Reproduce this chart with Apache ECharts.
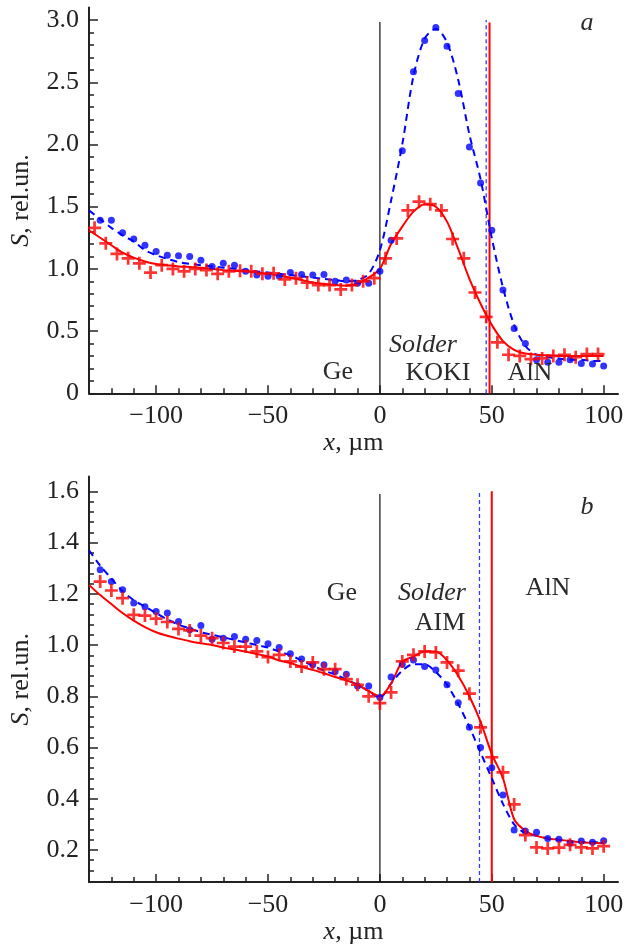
<!DOCTYPE html>
<html><head><meta charset="utf-8">
<script src="https://cdn.jsdelivr.net/npm/echarts@6/dist/echarts.min.js"></script>
<style>html,body{margin:0;padding:0;background:#fff}#c{width:626px;height:948px}</style>
</head><body><div id="c"></div>
<script>
// ---------- data ----------
const xFit = [-130,-125,-120,-115,-110,-105,-100,-95,-90,-85,-80,-75,-70,-65,-60,-55,-50,-45,-40,-35,-30,-25,-20,-15,-10,-5,0,5,10,15,20,25,30,35,40,45,50,55,60,65,70,75,80,85,90,95,100];
const xDots = [-125,-120,-115,-110,-105,-100,-95,-90,-85,-80,-75,-70,-65,-60,-55,-50,-45,-40,-35,-30,-25,-20,-15,-10,-5,0,5,10,15,20,25,30,35,40,45,50,55,60,65,70,75,80,85,90,95,100];
const xCrossA = [-127.5,-122.5,-117.5,-112.5,-107.5,-102.5,-97.5,-92.5,-87.5,-82.5,-77.5,-72.5,-67.5,-62.5,-57.5,-52.5,-47.5,-42.5,-37.5,-32.5,-27.5,-22.5,-17.5,-12.5,-7.5,-2.5,2.5,7.5,12.5,17.5,22.5,27.5,32.5,37.5,42.5,47.5,52.5,57.5,62.5,67.5,72.5,77.5,82.5,87.5,92.5,97.5];

// panel a
const blueFitA = [1.47,1.40,1.33,1.27,1.22,1.15,1.11,1.08,1.055,1.04,1.03,1.02,1.01,1.00,0.99,0.98,0.97,0.96,0.95,0.94,0.93,0.92,0.91,0.90,0.91,0.96,1.15,1.55,2.00,2.55,2.85,2.93,2.82,2.52,2.08,1.72,1.25,0.85,0.55,0.38,0.31,0.29,0.28,0.27,0.27,0.26,0.26];
const redFitA = [1.31,1.25,1.19,1.13,1.09,1.06,1.04,1.03,1.02,1.015,1.01,1.00,0.99,0.985,0.98,0.97,0.96,0.945,0.93,0.91,0.89,0.88,0.87,0.865,0.88,0.93,1.00,1.20,1.34,1.46,1.52,1.50,1.38,1.16,0.92,0.72,0.55,0.42,0.35,0.32,0.31,0.305,0.30,0.30,0.30,0.30,0.30];
const blueDotsA = [1.39,1.39,1.29,1.24,1.19,1.14,1.11,1.105,1.10,1.07,1.02,1.045,1.03,0.98,0.95,0.94,0.94,0.97,0.955,0.95,0.955,0.90,0.91,0.885,0.885,0.98,1.23,1.95,2.585,2.835,2.94,2.79,2.41,1.98,1.69,1.31,0.83,0.52,0.40,0.27,0.25,0.25,0.27,0.24,0.235,0.22];
const redCrossA = [1.33,1.205,1.12,1.085,1.045,0.97,1.03,1.0,0.98,1.0,0.99,0.96,0.98,0.985,0.98,0.96,0.965,0.915,0.925,0.89,0.87,0.87,0.835,0.87,0.90,0.925,1.085,1.245,1.47,1.54,1.52,1.47,1.24,1.085,0.81,0.615,0.41,0.31,0.30,0.275,0.28,0.30,0.31,0.29,0.315,0.315];

// panel b
const blueFitB = [1.37,1.31,1.26,1.21,1.175,1.15,1.125,1.10,1.08,1.065,1.05,1.04,1.03,1.02,1.01,1.0,0.99,0.975,0.96,0.94,0.92,0.90,0.885,0.865,0.845,0.82,0.795,0.85,0.90,0.925,0.925,0.895,0.845,0.77,0.68,0.58,0.48,0.38,0.30,0.265,0.255,0.245,0.24,0.235,0.23,0.23,0.23];
const redFitB = [1.235,1.195,1.16,1.125,1.095,1.07,1.05,1.036,1.025,1.015,1.007,1.0,0.99,0.983,0.975,0.965,0.955,0.94,0.93,0.915,0.903,0.89,0.875,0.862,0.845,0.82,0.80,0.85,0.935,0.955,0.975,0.975,0.94,0.88,0.80,0.70,0.575,0.48,0.32,0.275,0.255,0.245,0.24,0.235,0.23,0.228,0.226];
const blueDotsB = [1.294,1.248,1.216,1.164,1.15,1.131,1.125,1.092,1.06,1.076,1.023,1.027,1.033,1.023,1.018,1.005,0.99,0.966,0.946,0.923,0.923,0.897,0.886,0.84,0.84,0.795,0.875,0.925,0.942,0.916,0.903,0.845,0.775,0.679,0.60,0.521,0.415,0.278,0.274,0.269,0.245,0.242,0.226,0.235,0.23,0.236];
const redCrossB = [1.248,1.213,1.183,1.118,1.115,1.103,1.09,1.063,1.057,1.037,1.027,1.008,0.994,0.994,0.975,0.953,0.962,0.936,0.916,0.932,0.906,0.906,0.867,0.845,0.80,0.773,0.815,0.936,0.962,0.975,0.971,0.932,0.90,0.81,0.679,0.562,0.503,0.378,0.258,0.21,0.206,0.209,0.22,0.21,0.206,0.215];

// boundaries [x, yTop]
const boundA = {ge: [0, 2.985], blue: [47.5, 3.0], red: [49, 2.98]};
const boundB = {ge: [0, 1.59], blue: [44.5, 1.6], red: [50, 1.6]};

// ticks
const xMajor = [-100,-50,0,50,100];
const xMinor = [-120,-110,-90,-80,-70,-60,-40,-30,-20,-10,10,20,30,40,60,70,80,90];
const yMajorA = [0,0.5,1.0,1.5,2.0,2.5,3.0];
const yMajorB = [0.2,0.4,0.6,0.8,1.0,1.2,1.4,1.6];
const yMinorA = []; for (let i = 1; i <= 30; i++) if (i % 5) yMinorA.push(+(i*0.1).toFixed(2));
const yMinorB = []; for (let i = 3; i <= 39; i++) if (i % 5) yMinorB.push(+(i*0.04).toFixed(2));

// ---------- chart ----------
const FONT = 'Liberation Serif';
const INK = '#222';
const BLUE = '#0000ff';
const RED = '#ff0000';
const CROSS = 'path://M4.75,0H7.25V4.75H12V7.25H7.25V12H4.75V7.25H0V4.75H4.75Z';
const zip = (xs, ys) => xs.map((x, i) => [x, ys[i]]);
const fmtX = v => v < 0 ? '\u2212' + Math.abs(v) : String(v);

const X = {min: -130, max: 106.4};
const grids = [
  {left: 83, right: 3.3, top: 7.6, height: 385.7},
  {left: 83, right: 3.3, top: 476.5, height: 405.5}
];
const yr = [{min: 0, max: 3.1}, {min: 0.075, max: 1.658}];

function xAxes(gi) {
  return [
    {gridIndex: gi, type: 'value', min: X.min, max: X.max,
     axisLine: {show: true, onZero: false, lineStyle: {color: INK, width: 2}},
     axisTick: {show: true, inside: true, length: 8, lineStyle: {color: INK, width: 1.5}, customValues: xMajor},
     axisLabel: {show: true, margin: 10, fontFamily: FONT, fontSize: 26, color: INK, customValues: xMajor, formatter: fmtX},
     splitLine: {show: false},
     name: '{i|x}, \u00b5m', nameLocation: 'middle', nameGap: 34,
     nameTextStyle: {fontFamily: FONT, fontSize: 26, color: INK,
       rich: {i: {fontFamily: FONT, fontSize: 26, fontStyle: 'italic', color: INK}}}},
    {gridIndex: gi, type: 'value', min: X.min, max: X.max, position: 'bottom',
     axisLine: {show: false, onZero: false},
     axisTick: {show: true, inside: true, length: 5, lineStyle: {color: INK, width: 1.5}, customValues: xMinor},
     axisLabel: {show: false}, splitLine: {show: false}}
  ];
}
function yAxes(gi, major, minor, fmt) {
  return [
    {gridIndex: gi, type: 'value', min: yr[gi].min, max: yr[gi].max,
     axisLine: {show: true, onZero: false, lineStyle: {color: INK, width: 2}},
     axisTick: {show: true, inside: true, length: 9, lineStyle: {color: INK, width: 1.5}, customValues: major},
     axisLabel: {show: true, margin: 10, fontFamily: FONT, fontSize: 26, color: INK, customValues: major, formatter: fmt},
     splitLine: {show: false},
     name: '{i|S}, rel.un.', nameLocation: 'middle', nameGap: 55, nameRotate: 90,
     nameTextStyle: {fontFamily: FONT, fontSize: 26, color: INK,
       rich: {i: {fontFamily: FONT, fontSize: 26, fontStyle: 'italic', color: INK}}}},
    {gridIndex: gi, type: 'value', min: yr[gi].min, max: yr[gi].max, position: 'left',
     axisLine: {show: false, onZero: false},
     axisTick: {show: true, inside: true, length: 5, lineStyle: {color: INK, width: 1.5}, customValues: minor},
     axisLabel: {show: false}, splitLine: {show: false}}
  ];
}

function panelSeries(gi, bFit, rFit, bDots, rCross, xCross, bound, yBottom) {
  const xi = gi * 2, yi = gi * 2;
  const vline = (b, color, width, type, z) => ({
    type: 'line', xAxisIndex: xi, yAxisIndex: yi, data: [[b[0], yBottom], [b[0], b[1]]],
    symbol: 'none', lineStyle: {color, width, type}, z, silent: true, animation: false
  });
  return [
    vline(bound.ge, '#111', 1.2, 'solid', 2),
    vline(bound.blue, '#3a3aff', 1.3, [4, 3], 2),
    vline(bound.red, RED, 2, 'solid', 2),
    {type: 'line', xAxisIndex: xi, yAxisIndex: yi, data: zip(xFit, bFit), smooth: 0.3, symbol: 'none',
     lineStyle: {color: BLUE, width: 2, type: [7, 5]}, z: 3, animation: false},
    {type: 'line', xAxisIndex: xi, yAxisIndex: yi, data: zip(xFit, rFit), smooth: 0.3, symbol: 'none',
     lineStyle: {color: RED, width: 2}, z: 3, animation: false},
    {type: 'scatter', xAxisIndex: xi, yAxisIndex: yi, data: zip(xDots, bDots), symbol: 'circle', symbolSize: 7,
     itemStyle: {color: BLUE}, z: 4, animation: false},
    {type: 'scatter', xAxisIndex: xi, yAxisIndex: yi, data: zip(xCross, rCross), symbol: CROSS, symbolSize: 13,
     itemStyle: {color: RED}, z: 5, animation: false}
  ];
}

function txt(s, x, y, italic) {
  return {type: 'text', x, y, z: 10, style: {text: s, font: (italic ? 'italic ' : '') + '26px "' + FONT + '"',
    fill: '#2a2a2a', align: 'center', verticalAlign: 'middle', textAlign: 'center', textVerticalAlign: 'middle'}};
}

const option = {
  backgroundColor: '#fff',
  animation: false,
  grid: grids,
  xAxis: [...xAxes(0), ...xAxes(1)],
  yAxis: [...yAxes(0, yMajorA, yMinorA, v => v === 0 ? '0' : v.toFixed(1)),
          ...yAxes(1, yMajorB, yMinorB, v => v.toFixed(1))],
  series: [
    ...panelSeries(0, blueFitA, redFitA, blueDotsA, redCrossA, xCrossA, boundA, 0),
    ...panelSeries(1, blueFitB, redFitB, blueDotsB, redCrossB, xDots, boundB, 0.075)
  ],
  graphic: [
    txt('a', 587, 23, true),
    txt('Ge', 338, 372),
    txt('Solder', 423, 345, true),
    txt('KOKI', 438, 373),
    txt('AlN', 530, 373),
    txt('b', 587, 507, true),
    txt('Ge', 342, 593),
    txt('Solder', 432, 593, true),
    txt('AIM', 440, 623),
    txt('AlN', 548, 588)
  ]
};
const chart = echarts.init(document.getElementById('c'), null, {renderer: 'canvas'});
chart.setOption(option);
</script></body></html>
